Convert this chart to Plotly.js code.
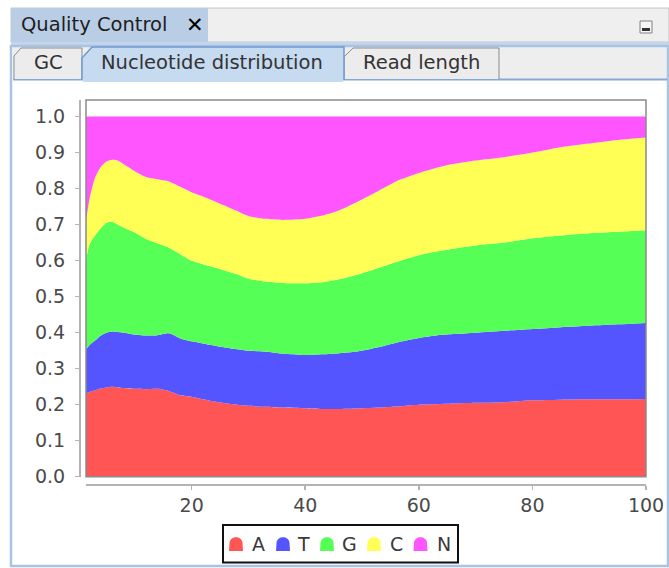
<!DOCTYPE html>
<html>
<head>
<meta charset="utf-8">
<script src="https://cdn.plot.ly/plotly-3.0.1.min.js"></script>
<style>
html,body{margin:0;padding:0;background:#fff;}
#chart{width:669px;height:568px;}
</style>
</head>
<body>
<div id="chart"></div>
<script>
// ---- data (fractions of each nucleotide per read position) ----
const positions = [1,2,3,4,5,6,7,8,10,12,14,16,18,20,22,25,28,30,33,36,40,43,46,50,53,56,60,63,66,70,75,80,85,90,95,100];
const fracA = [0.228,0.235,0.240,0.245,0.248,0.250,0.248,0.246,0.244,0.243,0.244,0.238,0.226,0.222,0.215,0.206,0.200,0.197,0.194,0.192,0.190,0.188,0.188,0.190,0.192,0.195,0.200,0.201,0.203,0.205,0.207,0.212,0.214,0.215,0.215,0.216];
const fracT = [0.117,0.130,0.138,0.147,0.152,0.153,0.154,0.154,0.151,0.149,0.149,0.160,0.158,0.154,0.155,0.155,0.154,0.153,0.153,0.150,0.148,0.152,0.155,0.160,0.168,0.177,0.185,0.191,0.193,0.195,0.198,0.198,0.201,0.204,0.208,0.211];
const fracG = [0.215,0.280,0.292,0.298,0.305,0.305,0.298,0.292,0.283,0.268,0.255,0.238,0.234,0.224,0.220,0.216,0.208,0.200,0.195,0.196,0.199,0.200,0.205,0.215,0.220,0.224,0.230,0.233,0.237,0.242,0.245,0.252,0.255,0.257,0.257,0.257];
const fracC = [0.100,0.125,0.160,0.170,0.170,0.172,0.178,0.176,0.170,0.172,0.178,0.184,0.187,0.190,0.188,0.181,0.176,0.174,0.174,0.175,0.179,0.185,0.192,0.205,0.215,0.224,0.228,0.232,0.235,0.236,0.237,0.238,0.245,0.249,0.255,0.258];
const fracN = [0.340,0.230,0.170,0.140,0.125,0.120,0.122,0.132,0.152,0.168,0.174,0.180,0.195,0.210,0.222,0.242,0.262,0.276,0.284,0.287,0.284,0.275,0.260,0.230,0.205,0.180,0.157,0.143,0.132,0.122,0.113,0.100,0.085,0.075,0.065,0.058];
const seriesNames = ['A','T','G','C','N'];
const seriesColors = ['#ff5555','#5555ff','#55ff55','#ffff55','#ff55ff'];
const xTicks = [20,40,60,80,100];
const tabLabels = ['GC','Nucleotide distribution','Read length'];
const windowTitle = 'Quality Control';

// ---- pixel -> paper helpers ----
const ML=79, MR=23, MT=100, MB=84, FW=669, FH=568;
const PW=FW-ML-MR, PH=FH-MT-MB;
const fx = x => (x-ML)/PW;
const fy = y => (MT+PH-y)/PH;
function rect(x0,y0,x1,y1,fill,line,lw,layer){
  return {type:'rect',xref:'paper',yref:'paper',x0:fx(x0),x1:fx(x1),y0:fy(y1),y1:fy(y0),
    fillcolor:fill||'rgba(0,0,0,0)',line:{color:line||'rgba(0,0,0,0)',width:lw||0},layer:layer||'below'};
}
function path(cmds,fill,line,lw,layer){
  let s='';
  cmds.forEach(c=>{
    s+=c[0];
    for(let i=1;i<c.length;i+=2){ s+=(i>1?' ':'')+fx(c[i]).toFixed(5)+','+fy(c[i+1]).toFixed(5); }
    s+=' ';
  });
  return {type:'path',xref:'paper',yref:'paper',path:s.trim(),fillcolor:fill||'rgba(0,0,0,0)',
    line:{color:line||'rgba(0,0,0,0)',width:lw||0},layer:layer||'below'};
}
function text(t,x,y,xanchor,size,color,family){
  return {text:t,xref:'paper',yref:'paper',x:fx(x),y:fy(y),xanchor:xanchor||'left',yanchor:'middle',
    showarrow:false,font:{family:family||'DejaVu Sans',size:size||19.5,color:color||'#333'},borderpad:0};
}

// ---- traces ----
const fracs=[fracA,fracT,fracG,fracC,fracN];
const traces = fracs.map((v,i)=>({
  type:'scatter',mode:'lines',x:positions,y:v,name:seriesNames[i],stackgroup:'one',
  line:{width:0,shape:'spline',smoothing:0.7,color:seriesColors[i]},fillcolor:seriesColors[i],
  hoverinfo:'skip'
}));

// ---- chrome ----
const shapes = [
  rect(11,8,669,42,'#efefef','#c4c4c4',1),
  rect(11,8,208,42,'#b9cde5',null,0),
  rect(11,42,669,47,'#c4d6eb',null,0),
  rect(13,47,667,79,'#eeeeee',null,0),
  rect(13,81,666,564,'#ffffff',null,0),
  rect(11,46,668,566,null,'#a9c3e3',2.5),
  rect(640,21,652,33,'#f7f7f7','#808080',1),
  rect(642,28,650,31,'#333333',null,0),
  {type:'line',xref:'paper',yref:'paper',x0:fx(13),x1:fx(667),y0:fy(79.5),y1:fy(79.5),line:{color:'#86a9d6',width:2},layer:'below'},
  path([['M',14,79],['L',14,56],['L',21,48],['L',82,48],['L',82,79]],'#ececec','#8c8c8c',1),
  path([['M',344,79],['L',344,57],['L',353,48],['L',499,48],['L',499,79]],'#ececec','#8c8c8c',1),
  path([['M',82,80],['L',82,58],['L',92,47],['L',344,47],['L',344,80]],'#c6daf0','#7099cf',1.5),
  rect(83,79,343,82,'#c6daf0',null,0),
  {type:'rect',xref:'x domain',yref:'y domain',x0:0,x1:1,y0:0,y1:1,line:{color:'#8a8a8a',width:1.5},layer:'above'},
  rect(223,525,458,562.5,'#ffffff','#111111',2,'above')
];
const markerX=[236,283,327,374,420.5];
const letterX=[258.5,303,349.5,396,443.5];
markerX.forEach((cx,i)=>{
  shapes.push(path([['M',cx-7,551],['L',cx-6.5,543],['C',cx-6,535.5,cx+6,535.5,cx+6.5,543],['L',cx+7,551],['Z']],seriesColors[i],null,0,'above'));
});

const annotations = [
  text(windowTitle,20,24.5,'left',19.5,'#1e1e1e'),
  text('✕',185,24.5,'left',21,'#000','DejaVu Sans Bold'),
  text(tabLabels[0],48.5,62,'center',19.5,'#333'),
  text(tabLabels[1],100,62,'left',19.5,'#333'),
  text(tabLabels[2],362,62,'left',19.5,'#333')
];
seriesNames.forEach((n,i)=>annotations.push(text(n,letterX[i],543.5,'center',19,'#3a3a3a')));

const layout = {
  width:FW,height:FH,margin:{l:ML,r:MR,t:MT,b:MB,pad:0},
  paper_bgcolor:'#ffffff',plot_bgcolor:'#ffffff',showlegend:false,
  font:{family:'DejaVu Sans',color:'#4a4a4a'},
  xaxis:{domain:[7/PW,1],range:[1.4,100],anchor:'free',position:0,showgrid:false,zeroline:false,
    showline:true,linecolor:'#b3b3b3',linewidth:1.5,ticks:'outside',ticklen:4,tickcolor:'#b3b3b3',tickwidth:1.5,
    tickvals:xTicks,ticktext:xTicks.map(String),tickfont:{size:19,color:'#4a4a4a',family:'DejaVu Sans'}},
  yaxis:{domain:[7.3/PH,1],range:[0,1.046],anchor:'free',position:0,showgrid:false,zeroline:false,
    showline:true,linecolor:'#b3b3b3',linewidth:1.5,ticks:'outside',ticklen:4,tickcolor:'#b3b3b3',tickwidth:1.5,
    tick0:0,dtick:0.1,tickformat:'.1f',ticklabelstandoff:6,tickfont:{size:19,color:'#4a4a4a',family:'DejaVu Sans'}},
  shapes:shapes,annotations:annotations
};
Plotly.newPlot('chart',traces,layout,{displayModeBar:false,staticPlot:true});
</script>
</body>
</html>
